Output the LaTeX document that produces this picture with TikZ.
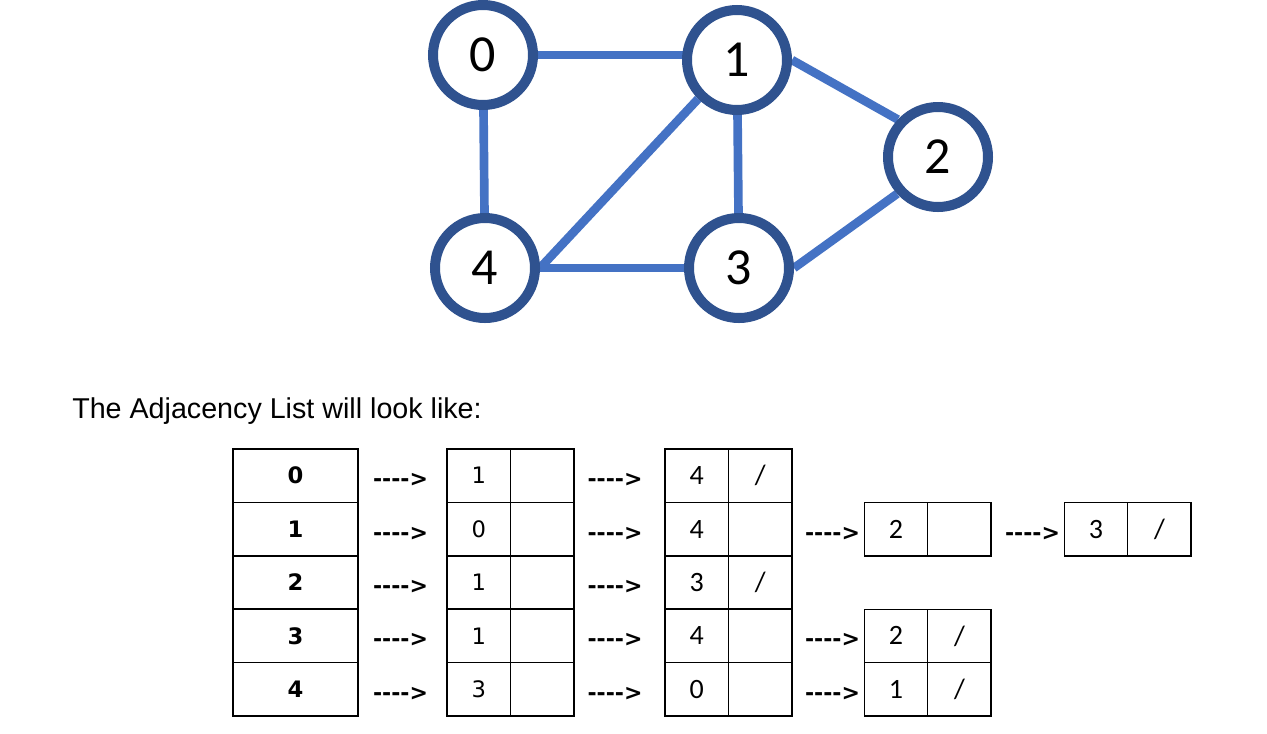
\documentclass[tikz,border=0pt]{standalone}
\usepackage{fontspec}
\setmainfont{Liberation Sans}
\newfontfamily\carlito{Carlito}
\newfontfamily\dejavu{DejaVu Sans}
\usetikzlibrary{positioning,backgrounds}

\definecolor{vtxring}{RGB}{47,82,143}
\definecolor{vtxedge}{RGB}{68,114,196}

\tikzset{
  vertex/.style={circle, draw=vtxring, fill=white, line width=7.5pt, minimum size=75pt, inner sep=0pt, font=\carlito\fontsize{39}{40}\selectfont},
  link/.style={draw=vtxedge, line width=6.5pt},
  headcell/.style={draw, line width=1.1pt, minimum width=93.75pt, minimum height=40pt, inner sep=0pt, outer sep=0pt, font=\dejavu\bfseries\fontsize{17}{18}\selectfont},
  cell/.style={draw, line width=1.1pt, minimum width=47.6pt, minimum height=40pt, inner sep=0pt, outer sep=0pt},
  dvtext/.style={font=\dejavu\fontsize{17}{18}\selectfont},
  cltext/.style={font=\carlito\fontsize{21}{22}\selectfont},
  arrowtext/.style={anchor=base, inner sep=0pt, font=\dejavu\bfseries\fontsize{16.5}{18}\selectfont}
}

\begin{document}
\begin{tikzpicture}[x=0.75pt,y=0.75pt,yscale=-1,xscale=1]
        \useasboundingbox (0,0) rectangle (1267,733);

        %Shape: Circle
        \node[vertex] (v0) at (483,55) {0};
        \node[vertex] (v1) at (737,60) {1};
        \node[vertex] (v2) at (938,157) {2};
        \node[vertex] (v3) at (739,268) {3};
        \node[vertex] (v4) at (485,268) {4};

        %Straight Lines
        \begin{scope}[on background layer]
        \draw[link] (v0) -- (v0 -| v1);
        \draw[link] (v0) -- (v4);
        \draw[link] (v1) -- (v3);
        \draw[link] (v4) -- (v3);
        \draw[link] (v4.east) -- (v1.225);
        \draw[link] (v1.east) -- (v2.137);
        \draw[link] (v2.222) -- (v3.east);
        \end{scope}

        % Text Node
        \node[anchor=base west, inner sep=0pt, font=\fontsize{21.5}{24}\selectfont] (title) at (72,418) {The Adjacency List will look like:};

        %Shape: Rectangle
        \node[headcell] (h0) at (295.5,475.7) {0};
        \node[headcell] (h1) at (295.5,529.1) {1};
        \node[headcell] (h2) at (295.5,582.5) {2};
        \node[headcell] (h3) at (295.5,635.9) {3};
        \node[headcell] (h4) at (295.5,689.3) {4};

        % Text Node
        \node[arrowtext] (t10) at (400.5,486.7) {-{}-{}-{}->};
        \node[arrowtext] (t11) at (400.5,540.1) {-{}-{}-{}->};
        \node[arrowtext] (t12) at (400.5,593.5) {-{}-{}-{}->};
        \node[arrowtext] (t13) at (400.5,646.9) {-{}-{}-{}->};
        \node[arrowtext] (t14) at (400.5,700.3) {-{}-{}-{}->};

        %Shape: Rectangle
        \node[cell, dvtext] (a0) at (478.75,475.7) {1};
        \node[cell, right=0pt of a0] (ap0) {};
        \node[cell, dvtext] (a1) at (478.75,529.1) {0};
        \node[cell, right=0pt of a1] (ap1) {};
        \node[cell, dvtext] (a2) at (478.75,582.5) {1};
        \node[cell, right=0pt of a2] (ap2) {};
        \node[cell, dvtext] (a3) at (478.75,635.9) {1};
        \node[cell, right=0pt of a3] (ap3) {};
        \node[cell, dvtext] (a4) at (478.75,689.3) {3};
        \node[cell, right=0pt of a4] (ap4) {};

        % Text Node
        \node[arrowtext] (t20) at (615,486.7) {-{}-{}-{}->};
        \node[arrowtext] (t21) at (615,540.1) {-{}-{}-{}->};
        \node[arrowtext] (t22) at (615,593.5) {-{}-{}-{}->};
        \node[arrowtext] (t23) at (615,646.9) {-{}-{}-{}->};
        \node[arrowtext] (t24) at (615,700.3) {-{}-{}-{}->};

        %Shape: Rectangle
        \node[cell, cltext] (b0) at (696.75,475.7) {4};
        \node[cell, cltext, right=0pt of b0] (bp0) {/};
        \node[cell, cltext] (b1) at (696.75,529.1) {4};
        \node[cell, right=0pt of b1] (bp1) {};
        \node[cell, cltext] (b2) at (696.75,582.5) {3};
        \node[cell, cltext, right=0pt of b2] (bp2) {/};
        \node[cell, cltext] (b3) at (696.75,635.9) {4};
        \node[cell, right=0pt of b3] (bp3) {};
        \node[cell, cltext] (b4) at (696.75,689.3) {0};
        \node[cell, right=0pt of b4] (bp4) {};

        % Text Node
        \node[arrowtext] (t31) at (832.5,540.1) {-{}-{}-{}->};
        \node[arrowtext] (t33) at (832.5,646.9) {-{}-{}-{}->};
        \node[arrowtext] (t34) at (832.5,700.3) {-{}-{}-{}->};

        %Shape: Rectangle
        \node[cell, cltext] (c1) at (896,529.1) {2};
        \node[cell, right=0pt of c1] (cp1) {};
        \node[cell, cltext] (c3) at (896,635.9) {2};
        \node[cell, cltext, right=0pt of c3] (cp3) {/};
        \node[cell, cltext] (c4) at (896,689.3) {1};
        \node[cell, cltext, right=0pt of c4] (cp4) {/};

        % Text Node
        \node[arrowtext] (t41) at (1032.5,540.1) {-{}-{}-{}->};

        %Shape: Rectangle
        \node[cell, cltext] (d1) at (1096,529.1) {3};
        \node[cell, cltext, right=0pt of d1] (dp1) {/};

\end{tikzpicture}
\end{document}
